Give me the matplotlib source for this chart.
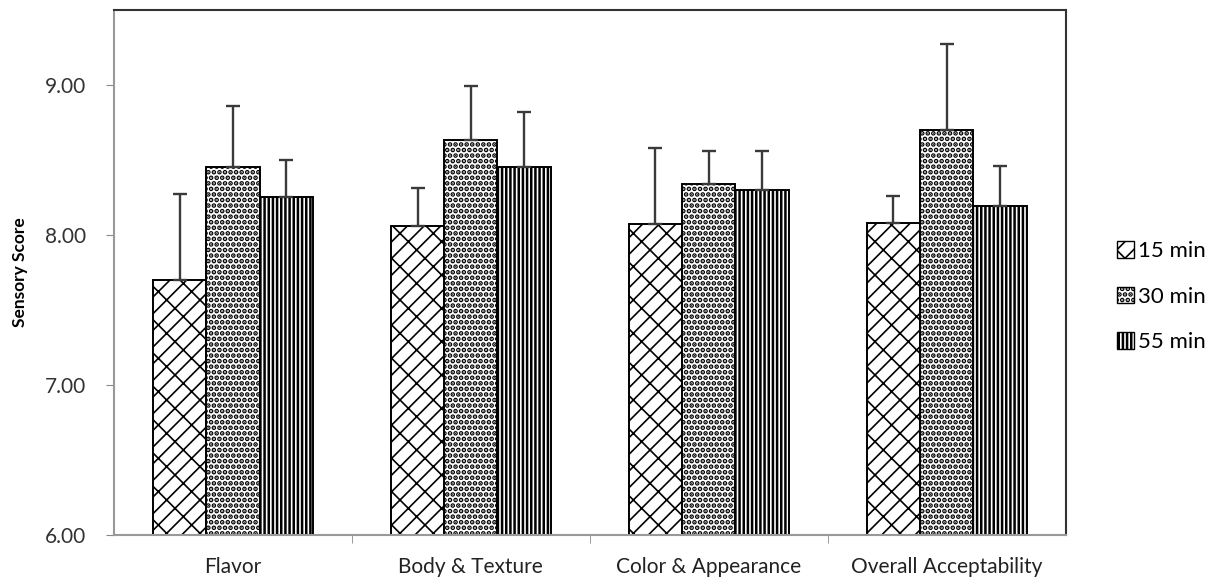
import numpy as np
import matplotlib
matplotlib.use("Agg")
import matplotlib.pyplot as plt
from matplotlib.patches import Patch

categories = ["Flavor", "Body & Texture", "Color & Appearance", "Overall Acceptability"]
series = ["15 min", "30 min", "55 min"]

# mean sensory scores per cooking time
score_15 = [7.70, 8.06, 8.07, 8.08]
score_30 = [8.45, 8.63, 8.34, 8.70]
score_55 = [8.25, 8.45, 8.30, 8.19]

# upper standard deviation (only the positive side is drawn)
sd_15 = [0.57, 0.25, 0.51, 0.18]
sd_30 = [0.41, 0.36, 0.22, 0.57]
sd_55 = [0.25, 0.37, 0.26, 0.27]

plt.rcParams["font.family"] = ["Lato", "DejaVu Sans"]
plt.rcParams["hatch.linewidth"] = 1.2

fig = plt.figure(figsize=(12.15, 5.84), dpi=100)
ax = fig.add_axes([0.0938, 0.0839, 0.7832, 0.8991])

x = np.arange(len(categories))
w = 0.224
hatches = ["//\\", "...", "||||"]
hatch_lw = [1.2, 2.4, 1.8]
hatch_col = ["black", "black", "#333333"]
means = [score_15, score_30, score_55]
sds = [sd_15, sd_30, sd_55]


def _style(p, lw, col):
    # per-patch hatch weight/colour where the matplotlib version allows it
    if hasattr(p, "set_hatch_linewidth"):
        p.set_hatch_linewidth(lw)
    if hasattr(p, "set_hatchcolor"):
        p.set_hatchcolor(col)


for i, (m, s, h) in enumerate(zip(means, sds, hatches)):
    pos = x + (i - 1) * w
    bars = ax.bar(pos, m, width=w, bottom=0, color="white", edgecolor="black",
                  linewidth=1.4, hatch=h, zorder=2)
    for b in bars:
        _style(b, hatch_lw[i], hatch_col[i])
    ax.errorbar(pos, m, yerr=[np.zeros(len(s)), s], fmt="none",
                ecolor="#3a3a3a", elinewidth=1.7, capsize=5, capthick=1.7, zorder=3)

ax.set_ylim(6.0, 9.5)
ax.set_xlim(-0.5, len(categories) - 0.5)
ax.set_yticks([6, 7, 8, 9])
ax.set_yticklabels([f"{v:.2f}" for v in [6, 7, 8, 9]], fontsize=15, color="#333333")
ax.set_xticks(x)
ax.set_xticklabels(categories, fontsize=15, color="#222222")
ax.set_xticks(np.arange(0.5, len(categories) - 0.5, 1.0), minor=True)
ax.tick_params(axis="x", which="major", length=0, pad=16)
ax.tick_params(axis="x", which="minor", length=6, color="#888888", direction="out")
ax.tick_params(axis="y", length=6, color="#888888", direction="out", pad=14)

ax.set_ylabel("Sensory Score", fontsize=12.5, fontweight="bold", labelpad=12)

for side in ["left", "bottom"]:
    ax.spines[side].set_color("#999999")
    ax.spines[side].set_linewidth(1.5)
for side in ["top", "right"]:
    ax.spines[side].set_color("#333333")
    ax.spines[side].set_linewidth(1.5)

handles = [Patch(facecolor="white", edgecolor="black", hatch=h, label=s)
           for h, s in zip(hatches, series)]
leg = fig.legend(handles=handles, loc="center left", bbox_to_anchor=(0.903, 0.492),
                 frameon=False, fontsize=16, handlelength=0.75, handleheight=0.75,
                 handletextpad=0.2, labelspacing=1.15)
for i, p in enumerate(leg.get_patches()):
    _style(p, hatch_lw[i], hatch_col[i])

fig.savefig("out.png", dpi=100)
